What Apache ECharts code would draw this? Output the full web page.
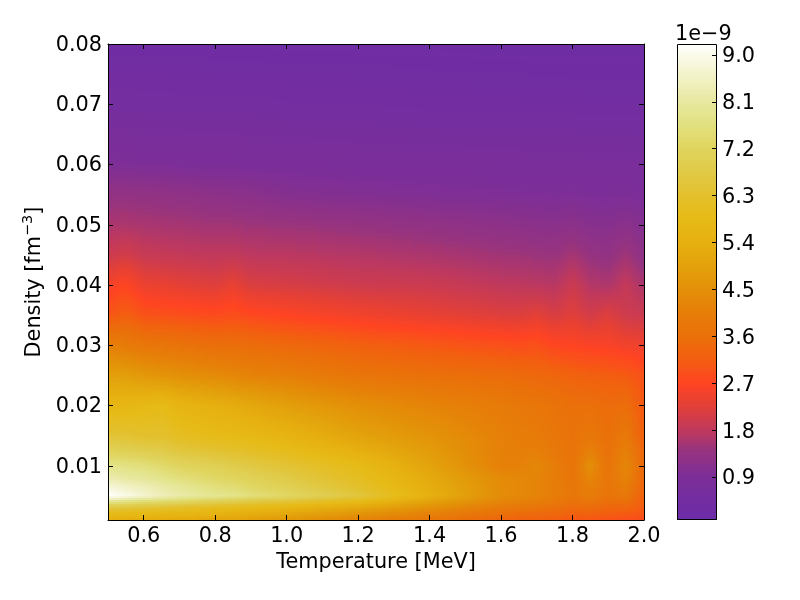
<!DOCTYPE html>
<html><head><meta charset="utf-8">
<style>html,body{margin:0;padding:0;background:#fff}#c{width:800px;height:600px}</style>
<script src="https://cdn.jsdelivr.net/npm/echarts@6/dist/echarts.min.js"></script>
</head><body><div id="c"></div>
<script>
const temperatures=[0.5,0.55,0.6,0.65,0.7,0.8,0.85,0.9,1.0,1.2,1.4,1.6,1.65,1.7,1.75,1.8,1.85,1.9,1.95,2.0];
const densities=[0.001,0.002,0.003,0.004,0.005,0.0065,0.008,0.01,0.0125,0.015,0.02,0.025,0.03,0.035,0.04,0.045,0.05,0.055,0.06,0.07,0.08];
const rate=[
[5.4,5.3,5.3,5.2,5.2,5.0,5.0,4.9,4.7,4.2,3.8,3.3,3.25,3.2,3.15,3.0,3.0,2.95,2.9,2.8],
[5.9,5.8,5.8,5.7,5.7,5.5,5.4,5.3,5.1,4.6,4.1,3.6,3.5,3.45,3.4,3.25,3.25,3.15,3.1,3.0],
[6.6,6.5,6.4,6.3,6.2,6.0,5.9,5.8,5.6,5.1,4.5,3.9,3.8,3.7,3.6,3.45,3.5,3.35,3.35,3.1],
[7.8,7.6,7.4,7.3,7.2,6.9,6.8,6.6,6.4,5.8,4.9,4.2,4.1,4.0,3.85,3.65,3.75,3.55,3.6,3.15],
[9.2,8.95,8.7,8.4,8.2,7.9,7.8,7.6,7.3,6.6,5.4,4.4,4.3,4.2,4.0,3.8,4.0,3.7,3.85,3.2],
[8.8,8.6,8.4,8.2,8.0,7.6,7.5,7.3,7.0,6.3,5.3,4.4,4.3,4.2,4.0,3.8,4.1,3.75,4.0,3.3],
[8.3,8.1,8.0,7.8,7.6,7.3,7.2,7.05,6.75,6.1,5.2,4.35,4.3,4.2,4.0,3.75,4.25,3.75,4.15,3.35],
[7.8,7.7,7.6,7.4,7.2,7.0,6.85,6.7,6.45,5.9,5.0,4.1,4.1,4.3,4.0,3.7,4.5,3.7,4.3,3.4],
[7.1,7.0,6.9,6.8,6.6,6.4,6.3,6.2,5.95,5.4,4.8,4.1,4.05,4.05,3.85,3.7,4.1,3.65,4.1,3.35],
[6.5,6.4,6.3,6.3,6.1,5.9,5.85,5.75,5.55,5.0,4.6,4.1,4.0,3.95,3.8,3.7,3.85,3.6,3.9,3.2],
[5.7,5.7,5.8,5.9,5.6,5.4,5.3,5.15,4.9,4.5,4.2,3.95,3.85,3.8,3.7,3.6,3.6,3.5,3.55,3.05],
[4.9,4.85,4.7,4.6,4.5,4.35,4.25,4.15,4.05,3.75,3.6,3.5,3.45,3.4,3.35,3.25,3.2,3.15,3.1,2.95],
[4.1,3.95,3.8,3.75,3.7,3.55,3.55,3.5,3.4,3.2,3.05,2.9,2.87,2.9,2.72,2.68,2.62,2.6,2.5,2.42],
[3.0,3.2,2.95,2.92,2.9,2.82,2.88,2.78,2.68,2.5,2.35,2.2,2.18,2.28,2.12,2.25,2.05,2.2,1.98,1.95],
[2.55,2.7,2.4,2.36,2.3,2.2,2.35,2.15,2.1,1.98,1.95,1.8,1.78,1.75,1.72,1.95,1.68,1.62,1.85,1.6],
[1.95,2.05,1.9,1.87,1.85,1.8,1.82,1.76,1.75,1.68,1.6,1.5,1.48,1.45,1.42,1.55,1.38,1.32,1.5,1.25],
[1.6,1.62,1.58,1.56,1.55,1.5,1.5,1.47,1.45,1.38,1.3,1.22,1.2,1.18,1.16,1.2,1.12,1.1,1.18,1.05],
[1.33,1.33,1.32,1.3,1.28,1.22,1.2,1.18,1.08,1.03,0.98,0.95,0.94,0.93,0.92,0.94,0.9,0.9,0.92,0.88],
[0.95,0.95,0.92,0.92,0.9,0.88,0.88,0.87,0.85,0.82,0.8,0.78,0.78,0.77,0.77,0.77,0.76,0.76,0.76,0.75],
[0.55,0.55,0.54,0.54,0.53,0.52,0.52,0.52,0.5,0.48,0.46,0.44,0.44,0.43,0.43,0.43,0.42,0.42,0.42,0.42],
[0.3,0.3,0.3,0.3,0.3,0.29,0.29,0.29,0.28,0.28,0.27,0.26,0.26,0.26,0.26,0.25,0.25,0.25,0.25,0.25]
];
const cmapValues=[0.075,0.9,1.4,1.8,2.3,2.7,3.2,3.6,4.1,4.5,5.0,5.4,5.9,6.3,6.8,7.2,7.8,8.1,8.6,9.21];
const cmapColors=['#6b2da8','#7c2e98','#96337f','#c0395c','#e54035','#ff4422','#f2600f','#ea700a','#e68008','#e39008','#e3a30c','#e6b010','#e6bb18','#e3c02c','#e0cb4a','#e0d45e','#e3e48a','#e8e8a0','#f2f2c8','#ffffff'];
const xTicks=[0.6,0.8,1.0,1.2,1.4,1.6,1.8,2.0];
const yTicks=[0.01,0.02,0.03,0.04,0.05,0.06,0.07,0.08];
const barTicks=[0.9,1.8,2.7,3.6,4.5,5.4,6.3,7.2,8.1,9.0];
const barRange=[0.075,9.21];

const FONT='DejaVu Sans';
const rgb=cmapColors.map(h=>[1,3,5].map(i=>parseInt(h.substr(i,2),16)));
const cache={};
function colorOf(v){
  const q=Math.round(v*50);
  if(cache[q])return cache[q];
  const w=Math.max(cmapValues[0],Math.min(cmapValues[cmapValues.length-1],q/50));
  let k=0;
  while(k<cmapValues.length-2&&w>cmapValues[k+1])k++;
  const t=(w-cmapValues[k])/(cmapValues[k+1]-cmapValues[k]);
  const c=[0,1,2].map(n=>Math.round(rgb[k][n]+(rgb[k+1][n]-rgb[k][n])*t));
  return cache[q]='rgb('+c.join(',')+')';
}
const cells=[];
for(let j=0;j<densities.length-1;j++)for(let i=0;i<temperatures.length-1;i++){
  cells.push([temperatures[i],densities[j],temperatures[i+1],densities[j+1],rate[j][i],rate[j][i+1],rate[j+1][i],rate[j+1][i+1]]);
}
function renderCell(p,api){
  const a=api.coord([api.value(0),api.value(1)]),b=api.coord([api.value(2),api.value(3)]);
  const x0=Math.round(a[0]),x1=Math.round(b[0]),yb=Math.round(a[1]),yt=Math.round(b[1]);
  const v00=api.value(4),v10=api.value(5),v01=api.value(6),v11=api.value(7);
  const children=[];
  const sx=3,sy=2;
  for(let x=x0;x<x1;x+=sx){
    const w=Math.min(sx,x1-x),u=(x+w/2-x0)/(x1-x0);
    for(let y=yt;y<yb;y+=sy){
      const h=Math.min(sy,yb-y),s=(yb-y-h/2)/(yb-yt);
      const v=v00*(1-u)*(1-s)+v10*u*(1-s)+v01*(1-u)*s+v11*u*s;
      children.push({type:'rect',shape:{x:x,y:y,width:w,height:h},style:{fill:colorOf(v)},silent:true});
    }
  }
  return {type:'group',children:children};
}
function renderBar(p,api){
  const a=api.coord([0,barRange[0]]),b=api.coord([1,barRange[1]]);
  const x0=Math.round(a[0]),x1=Math.round(b[0]),yb=Math.round(a[1]),yt=Math.round(b[1]);
  const children=[];
  for(let y=yt;y<yb;y+=3){
    const h=Math.min(3,yb-y),v=barRange[1]-(y+h/2-yt)/(yb-yt)*(barRange[1]-barRange[0]);
    children.push({type:'rect',shape:{x:x0,y:y,width:x1-x0,height:h},style:{fill:colorOf(v)},silent:true});
  }
  children.push({type:'rect',shape:{x:x0+0.5,y:yt+0.5,width:x1-x0-1,height:yb-yt-1},style:{fill:'none',stroke:'#000',lineWidth:1},silent:true,z2:5});
  return {type:'group',children:children};
}
const label={color:'#000',fontFamily:FONT,fontSize:20.8};
const line={show:true,onZero:false,lineStyle:{color:'#000',width:1}};
const tickIn=v=>({show:true,inside:true,length:5,customValues:v,lineStyle:{color:'#000',width:1}});
const chart=echarts.init(document.getElementById('c'),null,{renderer:'canvas'});
chart.setOption({
  animation:false,backgroundColor:'#fff',
  title:{text:'1e\u22129',left:670,top:19,textStyle:{color:'#000',fontFamily:FONT,fontSize:20.8,fontWeight:'normal'}},
  grid:[{left:108,right:156,top:44,bottom:80},{left:677,right:83,top:44,bottom:80}],
  xAxis:[
    {type:'value',gridIndex:0,min:0.5,max:2.0,position:'bottom',z:10,name:'Temperature [MeV]',nameLocation:'middle',nameGap:31,
     nameTextStyle:{color:'#000',fontFamily:FONT,fontSize:20.8},axisLine:line,axisTick:tickIn(xTicks),splitLine:{show:false},
     axisLabel:{...label,margin:6,customValues:xTicks,formatter:v=>v.toFixed(1)}},
    {type:'value',gridIndex:0,min:0.5,max:2.0,position:'top',z:10,axisLine:line,axisTick:tickIn(xTicks),splitLine:{show:false},axisLabel:{show:false}},
    {type:'value',gridIndex:1,min:0,max:1,show:false}
  ],
  yAxis:[
    {type:'value',gridIndex:0,min:0.001,max:0.08,position:'left',z:10,name:'Density [fm{sup|\u22123}]',nameLocation:'middle',nameGap:59,
     nameTextStyle:{color:'#000',fontFamily:FONT,fontSize:20.8,rich:{sup:{fontFamily:FONT,fontSize:14.5,padding:[0,0,12,0],color:'#000'}}},
     axisLine:line,axisTick:tickIn(yTicks),splitLine:{show:false},
     axisLabel:{...label,margin:6,customValues:yTicks,formatter:v=>'{a|'+v.toFixed(2)+'}',rich:{a:{...label,padding:[3,0,0,0]}}}},
    {type:'value',gridIndex:0,min:0.001,max:0.08,position:'right',z:10,axisLine:line,axisTick:tickIn(yTicks),splitLine:{show:false},axisLabel:{show:false}},
    {type:'value',gridIndex:1,min:barRange[0],max:barRange[1],position:'right',z:10,axisLine:{show:false,onZero:false},axisTick:tickIn(barTicks),splitLine:{show:false},
     axisLabel:{...label,margin:5,customValues:barTicks,formatter:v=>'{a|'+v.toFixed(1)+'}',rich:{a:{...label,padding:[4,0,0,0]}}}}
  ],
  series:[
    {type:'custom',xAxisIndex:0,yAxisIndex:0,coordinateSystem:'cartesian2d',clip:true,silent:true,data:cells,encode:{x:[0,2],y:[1,3]},renderItem:renderCell,progressive:0},
    {type:'custom',xAxisIndex:2,yAxisIndex:2,coordinateSystem:'cartesian2d',silent:true,data:[[0,barRange[0]]],encode:{x:0,y:1},renderItem:renderBar,progressive:0}
  ]
});
</script></body></html>
